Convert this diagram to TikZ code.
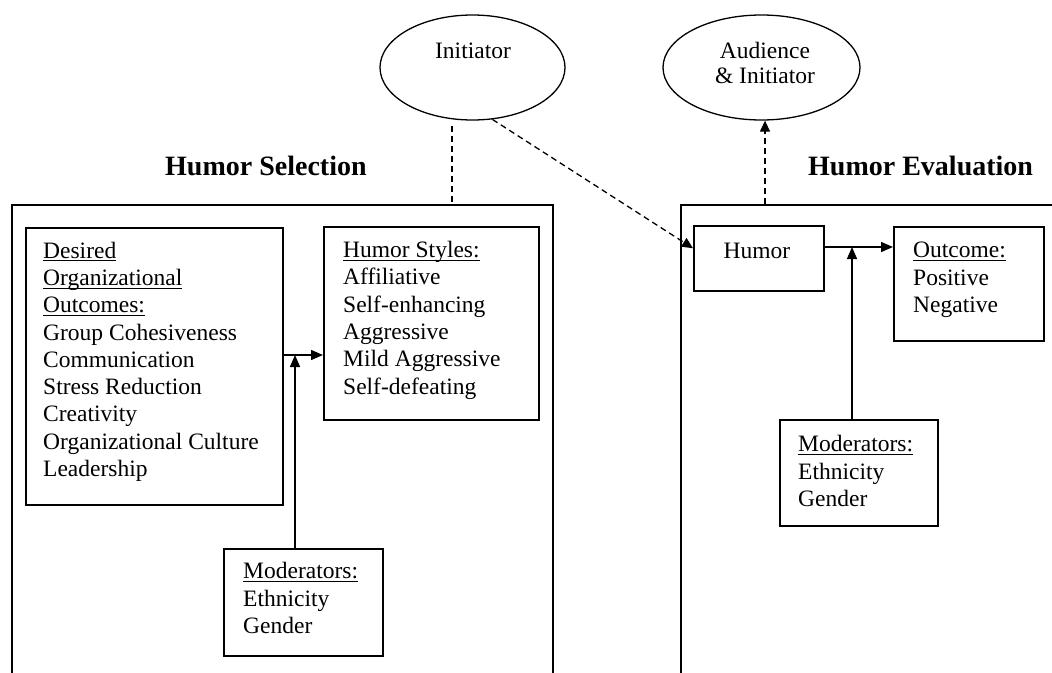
\documentclass[tikz,border=0pt]{standalone}
\usepackage{fontspec}
\setmainfont{Liberation Serif}
\usetikzlibrary{arrows.meta,shapes.geometric}
\newcommand\myul[1]{\setbox0\hbox{#1}\rlap{\rule[-3.2pt]{\wd0}{1.1pt}}\box0}
\tikzset{
  frame/.style={draw, line width=1.5pt, rectangle, inner sep=0pt, anchor=north west},
  oval/.style={draw, line width=1.3pt, ellipse, inner sep=0pt},
  txt/.style={inner sep=0pt, anchor=base west, align=left, font=\fontsize{23.5}{27.3}\selectfont},
  ctxt/.style={inner sep=0pt, anchor=base, align=center, font=\fontsize{23.5}{25}\selectfont},
  ttl/.style={inner sep=0pt, anchor=base west, font=\fontsize{28}{30}\selectfont\bfseries},
  arr/.style={line width=1.4pt, -{Triangle[length=12pt,width=10pt]}},
  dline/.style={line width=1.3pt, dash pattern=on 6pt off 4pt},
  darr/.style={dline, -{Triangle[length=11pt,width=10pt]}},
}
\begin{document}
\begin{tikzpicture}[x=1pt,y=-1pt]
\fill[white] (0,0) rectangle (1052,672);
\useasboundingbox (0,0) rectangle (1052,672);

% big frames
\node[frame, minimum width=541pt, minimum height=520pt] (lbig) at (11,204) {};
\node[frame, minimum width=420pt, minimum height=520pt] (rbig) at (680,204) {};

% titles
\node[ttl] (tsel) at (165,175) {Humor Selection};
\node[ttl] (teva) at (808,175) {Humor Evaluation};

% ellipses (multi-line text: base anchor = last line)
\node[oval, minimum width=185pt, minimum height=105pt] (ini) at (472.5,67.5) {};
\node[ctxt] (tini) at (473,58) {Initiator};
\node[oval, minimum width=197pt, minimum height=105pt] (aud) at (761.5,67.5) {};
\node[ctxt] (taud) at (765,83) {Audience\\\& Initiator};

% left inner boxes
\node[frame, minimum width=257pt, minimum height=277pt] (des) at (25,227) {};
\node[txt] (tdes) at (43,476.5) {\myul{Desired}\\\myul{Organizational}\\\myul{Outcomes:}\\Group Cohesiveness\\Communication\\Stress Reduction\\Creativity\\Organizational Culture\\Leadership};
\node[frame, minimum width=215pt, minimum height=193pt] (sty) at (323,226) {};
\node[txt] (tsty) at (343,394) {\myul{Humor Styles:}\\Affiliative\\Self-enhancing\\Aggressive\\Mild Aggressive\\Self-defeating};
\node[frame, minimum width=159pt, minimum height=107pt] (modl) at (223,548) {};
\node[txt] (tmodl) at (243,633.5) {\myul{Moderators:}\\Ethnicity\\Gender};

% right inner boxes
\node[frame, minimum width=130pt, minimum height=65pt] (hum) at (693,225) {};
\node[ctxt] (thum) at (757,258) {Humor};
\node[frame, minimum width=150pt, minimum height=114pt] (out) at (893,226) {};
\node[txt] (tout) at (913,312.5) {\myul{Outcome:}\\Positive\\Negative};
\node[frame, minimum width=158pt, minimum height=106pt] (modr) at (779,419) {};
\node[txt] (tmodr) at (798,506.5) {\myul{Moderators:}\\Ethnicity\\Gender};

% junction coordinates
\coordinate (j1) at (295,355);
\coordinate (j2) at (852,247);
\coordinate (c1) at (452,204);
\coordinate (c2) at (765,204);

% connectors
\draw[arr] (j1 -| des.east) -- (j1 -| sty.west);
\draw[arr] (modl.north -| j1) -- (j1);
\draw[arr] (j2 -| hum.east) -- (j2 -| out.west);
\draw[arr] (modr.north -| j2) -- (j2);
\draw[dline, shorten <=5pt] (ini.south -| c1) -- (c1);
\draw[darr] (c2) -- (aud.south -| c2);
\draw[darr] (ini.-69) -- ([yshift=10pt]hum.west);
\end{tikzpicture}
\end{document}
